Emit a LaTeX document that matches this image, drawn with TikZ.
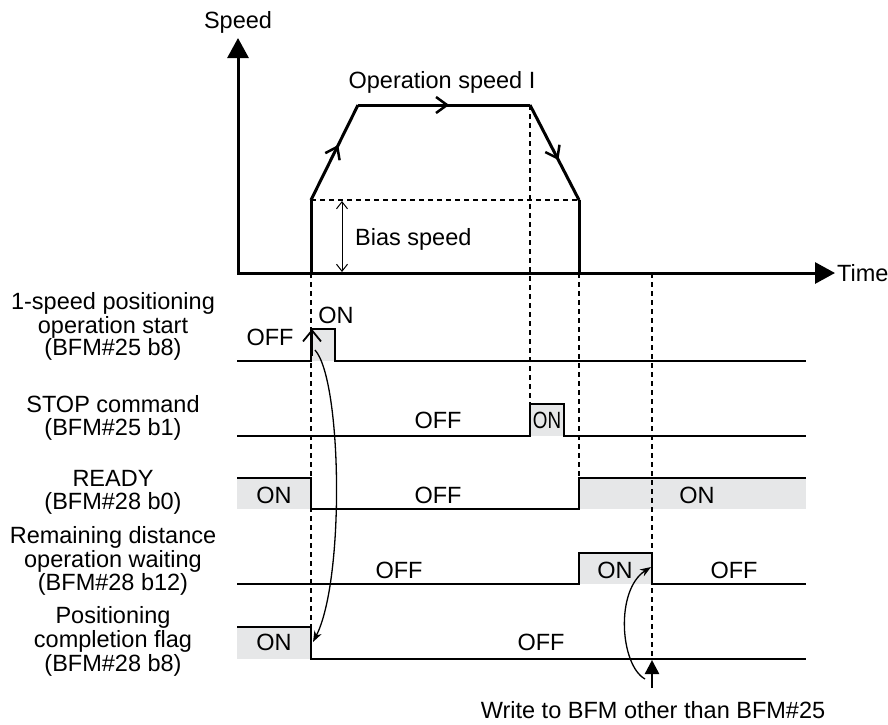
\documentclass[tikz,border=0pt]{standalone}
\usepackage{fontspec}
\setmainfont{Liberation Sans}
\usetikzlibrary{arrows.meta,decorations.markings}
\definecolor{ongray}{RGB}{230,231,232}
\begin{document}
\begin{tikzpicture}[x=1pt,y=-1pt,
  lbl/.style={inner sep=0pt, anchor=base, font=\fontsize{23.5}{24}\selectfont},
  axisline/.style={line width=3pt, -{Triangle[length=20pt,width=21pt]}},
  traj/.style={line width=3pt, line join=miter},
  sig/.style={line width=2.5pt, line join=miter},
  guide/.style={line width=1.5pt, dash pattern=on 5pt off 4pt},
  onfill/.style={fill=ongray, draw=none},
  midarrow/.style={decorate, decoration={markings, mark=at position #1 with {\arrow[line width=2.5pt]{Straight Barb[length=11pt,width=16pt]}}}},
  curvearrow/.style={line width=1.3pt, -{Stealth[length=11pt,width=8pt]}},
]
\useasboundingbox (0,0) rectangle (888,724);

% ---------- key coordinates ----------
\coordinate (O) at (238,273);
\coordinate (Ytop) at (238,38);
\coordinate (Xend) at (835,273);
\coordinate (B0) at (311,273);
\coordinate (B1) at (311,200);
\coordinate (T1) at (358,105);
\coordinate (T2) at (530,105);
\coordinate (B2) at (579,200);
\coordinate (B3) at (579,273);

% ---------- gray ON fills ----------
\fill[ongray] (311,329) rectangle (335,361);
\fill[ongray] (530,404) rectangle (564,436);
\fill[ongray] (237,478) rectangle (311,509);
\fill[ongray] (579,478) rectangle (806,509);
\fill[ongray] (579,553) rectangle (652,584);
\fill[ongray] (237,627) rectangle (311,659);

% ---------- dashed guides ----------
\draw[guide] (B1) -- (B2);
\draw[guide] (311,273) -- (311,627);
\draw[guide] (T2) -- (530,404);
\draw[guide] (579,273) -- (579,478);
\draw[guide] (652,273) -- (652,660);

% ---------- speed graph ----------
\draw[axisline] (238,273) -- (Ytop);
\draw[axisline] (237,273) -- (Xend);
\draw[traj] (B0) -- (B1);
\draw[traj, postaction={midarrow=0.58}] (B1) -- (T1);
\draw[traj, postaction={midarrow=0.53}] (T1) -- (T2);
\draw[traj, postaction={midarrow=0.58}] (T2) -- (B2);
\draw[traj] (B2) -- (B3);
\draw[line width=1pt, {Straight Barb[length=7pt,width=11pt]}-{Straight Barb[length=7pt,width=11pt]}] (342,201) -- (342,272);

\node[lbl] (speed) at (238,28) {Speed};
\node[lbl] (opspeed) at (442,88) {Operation speed I};
\node[lbl, anchor=base west] (bias) at (355,245) {Bias speed};
\node[lbl, anchor=base west] (time) at (837,281) {Time};

% ---------- timing signals ----------
\draw[sig] (237,361) -- (311,361) -- (311,329) -- (335,329) -- (335,361) -- (806,361);
\draw[sig] (237,436) -- (530,436) -- (530,404) -- (564,404) -- (564,436) -- (806,436);
\draw[sig] (237,478) -- (311,478) -- (311,509) -- (579,509) -- (579,478) -- (806,478);
\draw[sig] (237,584) -- (579,584) -- (579,553) -- (652,553) -- (652,584) -- (806,584);
\draw[sig] (237,627) -- (311,627) -- (311,659) -- (806,659);

% rising-edge marker
\coordinate (re0) at (312,356);
\coordinate (re1) at (312,329);
\draw[line width=1.8pt, -{Straight Barb[length=11pt,width=18pt]}] (re0) -- (re1);

% ---------- signal state labels ----------
\node[lbl] (s1off) at (270,345) {OFF};
\node[lbl] (s1on) at (336,323) {ON};
\node[lbl] (s2off) at (438,428) {OFF};
\node[lbl] (s2on) at (547,428) {\scalebox{0.8}[1]{ON}};
\node[lbl] (s3on) at (274,503) {ON};
\node[lbl] (s3off) at (438,503) {OFF};
\node[lbl] (s3on2) at (697,503) {ON};
\node[lbl] (s4off) at (399,578) {OFF};
\node[lbl] (s4on) at (615,578) {ON};
\node[lbl] (s4off2) at (734,578) {OFF};
\node[lbl] (s5on) at (274,650) {ON};
\node[lbl] (s5off) at (541,650) {OFF};

% ---------- left labels ----------
\node[lbl] (l1a) at (113,309) {1-speed positioning};
\node[lbl] (l1b) at (113,333) {operation start};
\node[lbl] (l1c) at (113,355) {(BFM\#25 b8)};
\node[lbl] (l2a) at (113,412) {STOP command};
\node[lbl] (l2b) at (113,435) {(BFM\#25 b1)};
\node[lbl] (l3a) at (113,486) {READY};
\node[lbl] (l3b) at (113,509) {(BFM\#28 b0)};
\node[lbl] (l4a) at (113,543) {Remaining distance};
\node[lbl] (l4b) at (113,567) {operation waiting};
\node[lbl] (l4c) at (113,590) {(BFM\#28 b12)};
\node[lbl] (l5a) at (113,623) {Positioning};
\node[lbl] (l5b) at (113,647) {completion flag};
\node[lbl] (l5c) at (113,671) {(BFM\#28 b8)};

% ---------- causal curves ----------
\coordinate (c1s) at (315,350);
\coordinate (c1e) at (313,642);
\draw[curvearrow] (c1s) .. controls (342,380) and (345,580) .. (c1e);

\coordinate (w0) at (652,688);
\coordinate (w1) at (652,660);
\draw[line width=2.5pt, -{Triangle[length=14pt,width=14pt]}] (w0) -- (w1);
\coordinate (c2s) at (645,679);
\coordinate (c2e) at (651,567);
\draw[curvearrow] (c2s) .. controls (620,665) and (615,590) .. (c2e);

\node[lbl] (write) at (653,718) {Write to BFM other than BFM\#25};
\end{tikzpicture}
\end{document}
